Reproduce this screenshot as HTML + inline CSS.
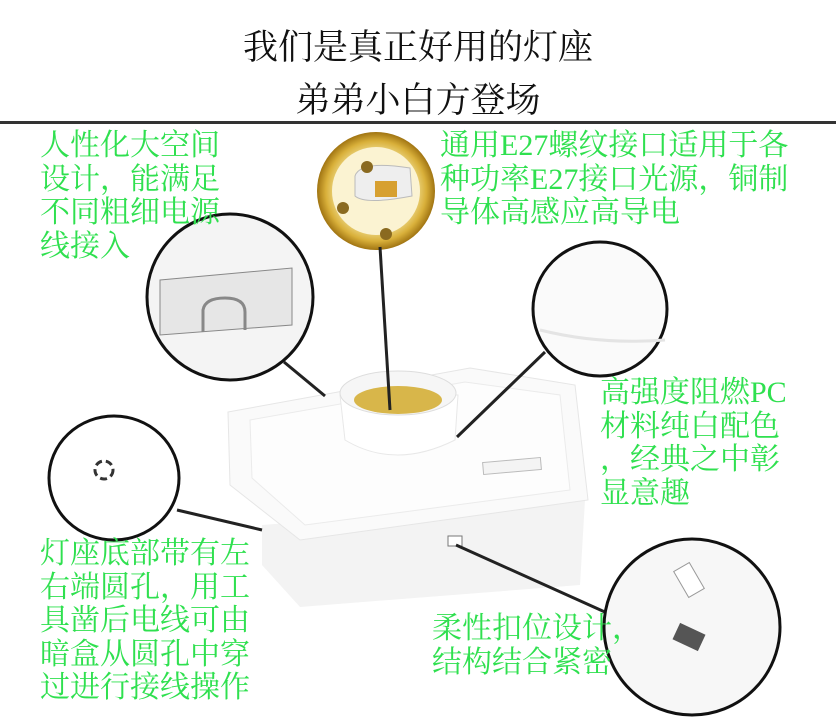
<!DOCTYPE html>
<html><head><meta charset="utf-8"><style>
body{margin:0;width:836px;height:722px;background:#fff;position:relative;overflow:hidden;font-family:"Liberation Serif","Noto Serif CJK SC",serif}
.t{position:absolute;color:#111;font-size:35px;line-height:40px;width:836px;text-align:center;left:0;font-family:"Liberation Serif","Noto Serif CJK SC",serif}
.g{position:absolute;color:#2fe04f;font-size:30px;line-height:33.5px;white-space:nowrap;font-family:"Liberation Serif","Noto Serif CJK SC",serif}
svg{position:absolute;left:0;top:0}
</style></head><body>
<svg width="836" height="722">
<defs>
<radialGradient id="gold" cx="50%" cy="50%" r="50%"><stop offset="0.6" stop-color="#f6e9a8"/><stop offset="0.85" stop-color="#d9b03a"/><stop offset="1" stop-color="#a07412"/></radialGradient>
</defs>
<rect x="0" y="121" width="836" height="3" fill="#333"/>
<polygon points="262,525 585,500 580,585 300,607 262,565" fill="#f3f3f3"/>
<polygon points="228,412 470,368 575,385 588,500 300,540 230,485" fill="#fafafa" stroke="#e6e6e6"/>
<polygon points="250,420 465,382 560,395 570,490 305,525 252,478" fill="#fdfdfd" stroke="#ebebeb"/>
<rect x="483" y="460" width="58" height="12" fill="#f4f4f4" stroke="#bbb" transform="rotate(-5 512 466)"/>
<rect x="448" y="536" width="14" height="10" fill="#fff" stroke="#777"/>
<path d="M340,395 L345,440 Q395,470 455,440 L458,395 Z" fill="#fff" stroke="#e8e8e8"/>
<ellipse cx="398" cy="393" rx="58" ry="22" fill="#f6f6f6" stroke="#ddd"/>
<ellipse cx="398" cy="400" rx="44" ry="14" fill="#d8b64a"/>
<circle cx="376" cy="191" r="59" fill="url(#gold)"/>
<circle cx="376" cy="191" r="44" fill="#fbf3d2"/>
<path d="M355,176 Q360,160 410,168 L412,196 Q365,205 355,196 Z" fill="#eee" stroke="#bbb"/>
<rect x="375" y="181" width="22" height="16" fill="#d7a030"/>
<circle cx="367" cy="167" r="6" fill="#8a6a20"/><circle cx="343" cy="208" r="6" fill="#8a6a20"/><circle cx="386" cy="234" r="6" fill="#8a6a20"/>
<g stroke="#222" stroke-width="3">
<line x1="380" y1="247" x2="390" y2="410"/>
<line x1="284" y1="362" x2="325" y2="396"/>
<line x1="545" y1="352" x2="457" y2="437"/>
<line x1="177" y1="510" x2="262" y2="530"/>
<line x1="456" y1="545" x2="616" y2="617"/>
</g>
<circle cx="230" cy="297" r="83" fill="#f4f4f4" stroke="#111" stroke-width="3"/>
<path d="M160,280 L292,268 L292,325 L160,335 Z" fill="#e6e6e6" stroke="#888"/>
<path d="M203,332 L203,310 Q205,298 225,298 Q245,298 245,312 L245,330" fill="none" stroke="#888" stroke-width="3"/>
<circle cx="600" cy="309" r="67" fill="#fafafa" stroke="#111" stroke-width="3"/>
<path d="M540,330 Q600,345 665,340" fill="none" stroke="#e4e4e4" stroke-width="3"/>
<ellipse cx="114" cy="478" rx="65" ry="62" fill="#fff" stroke="#111" stroke-width="3"/>
<circle cx="104" cy="470" r="9" fill="none" stroke="#333" stroke-width="3" stroke-dasharray="7 4"/>
<ellipse cx="692" cy="627" rx="88" ry="88" fill="#f7f7f7" stroke="#111" stroke-width="3"/>
<rect x="680" y="565" width="18" height="30" fill="#fff" stroke="#999" transform="rotate(-30 689 580)"/>
<rect x="675" y="628" width="28" height="18" fill="#555" transform="rotate(25 689 637)"/>
</svg>
<div class="t" style="top:28px">我们是真正好用的灯座</div>
<div class="t" style="top:81px">弟弟小白方登场</div>
<div class="g" style="left:40px;top:129px">人性化大空间<br>设计，能满足<br>不同粗细电源<br>线接入</div>
<div class="g" style="left:440px;top:129px">通用E27螺纹接口适用于各<br>种功率E27接口光源，铜制<br>导体高感应高导电</div>
<div class="g" style="left:600px;top:376px">高强度阻燃PC<br>材料纯白配色<br>，经典之中彰<br>显意趣</div>
<div class="g" style="left:40px;top:537px">灯座底部带有左<br>右端圆孔，用工<br>具凿后电线可由<br>暗盒从圆孔中穿<br>过进行接线操作</div>
<div class="g" style="left:432px;top:612px">柔性扣位设计，<br>结构结合紧密</div>
</body></html>
